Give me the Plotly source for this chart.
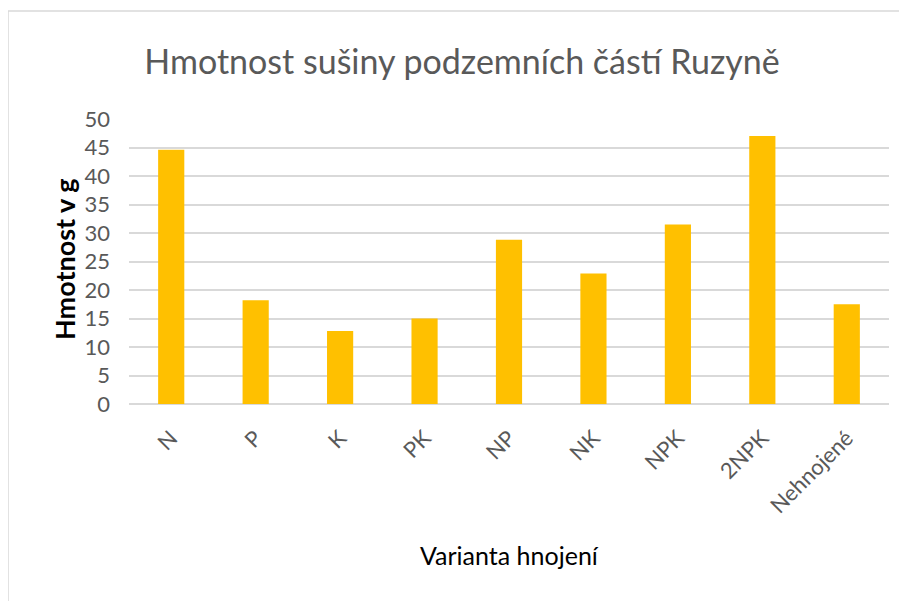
import plotly.graph_objects as go

categories = ["N", "P", "K", "PK", "NP", "NK", "NPK", "2NPK", "Nehnojené"]
values = [44.6, 18.2, 12.8, 15.0, 28.8, 22.9, 31.5, 47.0, 17.5]
y_ticks = [0, 5, 10, 15, 20, 25, 30, 35, 40, 45, 50]

FONT = "Lato, 'Open Sans', sans-serif"

fig = go.Figure(go.Bar(x=categories, y=values, marker=dict(color="#FFC000", line=dict(width=0))))

# page has an 8px body margin; work in figure coords = page coords - 8
OFF = 8
W, H = 907, 601
L, R, T, B = 129 - OFF, 907 - (889 - OFF), 119 - OFF, 601 - (404 - OFF)
pw, ph = W - L - R, H - T - B

def px(x):
    return (x - OFF - L) / pw

def py(y):
    return (H - B - (y - OFF)) / ph

fig.update_layout(
    width=W, height=H,
    margin=dict(l=L, r=R, t=T, b=B),
    paper_bgcolor="white", plot_bgcolor="white",
    bargap=0.69,
    font=dict(family=FONT, color="#595959"),
    title=dict(text="Hmotnost sušiny podzemních částí Ruzyně", x=(462 - OFF) / W, xanchor="center",
               y=1 - (62 - OFF) / H, yanchor="middle", font=dict(size=34, color="#595959", family=FONT)),
    xaxis=dict(tickangle=-45, tickfont=dict(size=22, color="#595959"), showgrid=False,
               showline=False, ticks="", ticklabelstandoff=16),
    yaxis=dict(range=[0, 50], tickvals=y_ticks, tickfont=dict(size=22, color="#595959"),
               gridcolor="#D9D9D9", gridwidth=1.5, zeroline=True, zerolinecolor="#D9D9D9",
               zerolinewidth=1.5, ticks="", showline=False, ticklabelstandoff=18),
    showlegend=False,
    annotations=[
        dict(text="<b>Hmotnost v g</b>", xref="paper", yref="paper", x=px(64), y=py(259),
             xanchor="center", yanchor="middle", textangle=-90, showarrow=False,
             font=dict(size=27, color="#000000", family=FONT)),
        dict(text="Varianta hnojení", xref="paper", yref="paper", x=px(509), y=py(555),
             xanchor="center", yanchor="middle", showarrow=False,
             font=dict(size=25, color="#000000", family=FONT)),
    ],
    shapes=[dict(type="rect", xref="paper", yref="paper",
                 x0=px(8), x1=px(915), y0=py(610), y1=py(11),
                 line=dict(color="#D9D9D9", width=1.5), layer="below")],
)

fig.write_html("out.html")
